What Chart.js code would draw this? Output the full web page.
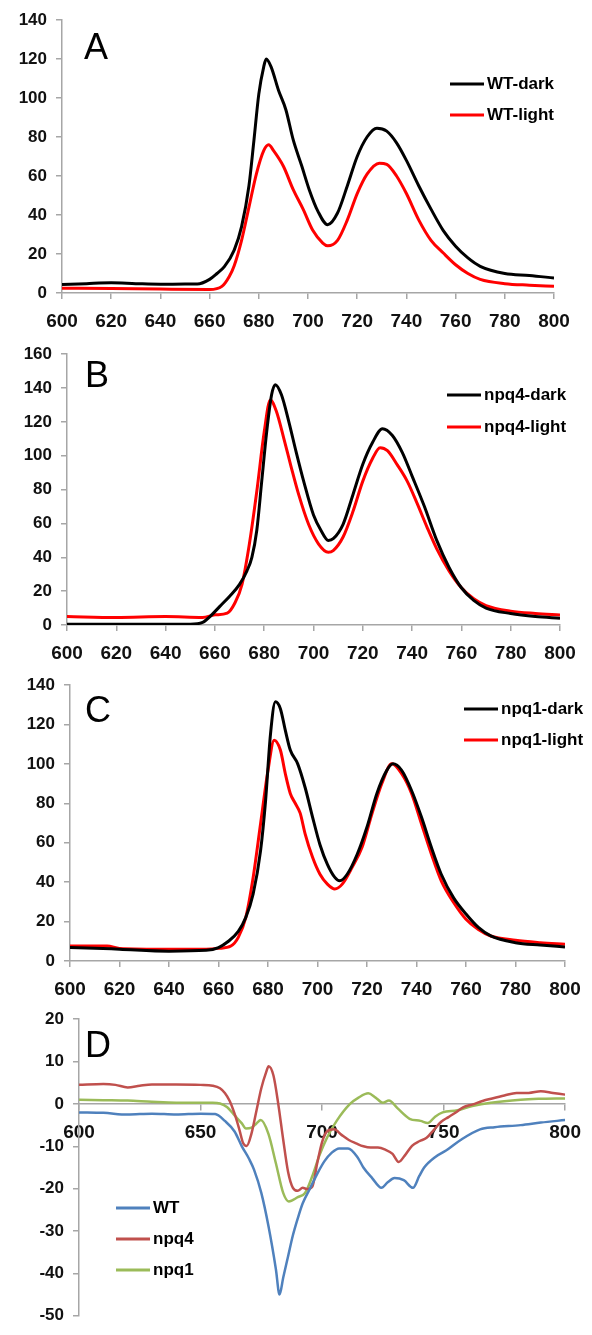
<!DOCTYPE html>
<html>
<head>
<meta charset="utf-8">
<script src="https://cdn.jsdelivr.net/npm/chart.js@4.4.1/dist/chart.umd.min.js"></script>
<style>
  html, body { margin: 0; padding: 0; background: #fff; }
  canvas { position: absolute; left: 0; }
</style>
</head>
<body>
<canvas id="chartA" width="592" height="335" style="top:0px"></canvas>
<canvas id="chartB" width="592" height="330" style="top:335px"></canvas>
<canvas id="chartC" width="592" height="335" style="top:665px"></canvas>
<canvas id="chartD" width="592" height="335" style="top:1000px"></canvas>
<script>
// Panel A - wild type
const wlWTdark = [600,610,620,630,640,650,655,660,663,666,670,673,676,678,680,682,683,685,688,691,694,697.5,700.5,704,708,712,716,720,724,728,732,736,740,745,750,755,760,765,770,780,790,800];
const wtDark = [4.3,4.8,5.2,4.8,4.5,4.6,4.6,7,10,13.5,22,34,55,78,102,116,120,116,104,94,78.5,65,53,42,35,41,55,70,80,84.5,83,77,68,55,43,32,24,18,13.7,10,9,7.7];
const wlWTlight = [600,620,640,660,665,668,670,673,676,679,682,684,686,690,694,698,702,706,708,712,716,720,724,729,732,736,740,745,750,755,760,765,770,780,790,800];
const wtLight = [2.5,2.3,2,1.8,3.4,8.5,14,27,44,61,73,76,73,65,53,43,32,25.6,24.2,27,37.5,51,61,66.6,66,60,51,37.5,27,20.5,14.5,10,7,4.8,4,3.4];

// Panel B - npq4
const wlN4dark = [600,620,640,650,655,658,662,666,670,673,675,677,679,681,683,684.5,687,690,693,696,700,703,706,708,712,716,720,724,728,732,736,740,745,750,755,760,765,770,780,790,800];
const npq4Dark = [0.5,0.5,0.5,0.5,1.5,5,11,17,24,32,40,56,85,114,136,142,136,120,102,85,65,56,50,51,59.5,77,95,108,116,112,102,88,70,50,34,22,14.5,10,6.8,5,4];
const wlN4light = [600,620,640,655,660,665,668,671,674,677,680,682.5,685,688,691,694,698,702,706,708,712,716,720,724,727,730,734,738,742,746,750,755,760,765,770,780,790,800];
const npq4Light = [5,4.5,5,4.5,6,7,12.7,24,48,79,114,133,126,110,93,77,59.5,48,43,44,52,67,85,98.5,104.8,103,94.6,85,72,58,45,32,22,15.5,11.5,8.2,6.8,5.9];

// Panel C - npq1
const wlN1dark = [600,610,620,640,655,660,664,668,671,674,677,679,681,683,685,687,689,692,695,698,701,704,707,709,712,716,720,724,728,730.5,734,738,742,746,750,755,760,765,770,780,790,800];
const npq1Dark = [6.8,6.5,6,5,5.4,6.8,10,15,22,34,56,81,115,131.5,128,117,107,100,88,73,59,49,42.4,40.7,44,54,68,85,96.7,100,96.7,86.5,73,57.7,44,32,23.8,17,12.7,9.3,8.1,7.1];
const wlN1light = [600,615,620,640,655,660,665,668,671,674,677,680,682.5,685,687,689,691,693,695,698,701,704,707,710,714,718,722,726,730,734,738,742,746,750,755,760,765,770,780,790,800];
const npq1Light = [7.6,7.6,6.4,6,6,6.4,7.6,12,22,42.4,69.6,96.7,112,107,95,85,80,75,64.5,52.6,44,39,36.5,39,47.5,57.7,74.7,90,100,95,85,69.6,54.3,40.7,29.7,21.2,16,12.7,10.5,9.3,8.5];

// Panel D - light minus dark difference spectra
const wlDiffWT = [600,610,620,630,640,650,656,660,664,667,670,672,675,678,681,682.5,684,686,688,690,692,695,698,701,704,707,710.7,714.5,717,720.6,724.4,727,729.8,733.6,737.4,740,742,746.6,751,757,765,771,781.7,790,800];
const diffWT = [-2,-2.1,-2.5,-2.3,-2.5,-2.3,-2.4,-4,-6.5,-10,-13,-15.5,-21,-29,-39,-45,-41,-36,-31,-27,-23.5,-20,-16.5,-13.5,-11.5,-10.5,-10.5,-12.5,-15,-17.5,-19.8,-18.5,-17.5,-18,-19.8,-17,-15,-12.5,-11,-8.5,-6,-5.5,-5,-4.4,-3.8];
const wlDiffN4 = [600,610,615,620,625,630,640,650,655,658,660,662,664,666,667.5,669,671,673,675,677,678,680,682,684,686,688,690,692,694,696,698,700,702,705,708,711,714,717,720,723,726,729,731.5,734,737,740,743,746,749,752,755,758,762,766,770,775,780,785,790,795,800];
const diffN4 = [4.5,4.7,4.5,3.9,4.3,4.6,4.6,4.5,4.3,3.7,2.6,0.7,-2.3,-6.1,-9.2,-9.9,-6.9,-1.6,3.7,7.5,8.9,6.7,-0.1,-8.4,-16,-19.8,-20.5,-19.8,-20.1,-19.5,-14,-9,-6.5,-6,-7.3,-8.5,-9.3,-10,-10.3,-10.3,-10.8,-11.8,-13.7,-12.2,-9.9,-8.8,-8,-6.1,-4.2,-3.1,-2,-0.8,-0.1,0.7,1.3,2,2.6,2.6,3,2.6,2.2];
const wlDiffN1 = [600,610,620,630,640,650,655,658,661,664,667,668.7,671,673,674.8,677.9,681,684,686.3,690,693,696,699,702,706,711.5,715,719,722,725,727.5,731,736,740.5,743.5,746.5,749.6,755.7,761.8,769.5,781.7,789,800];
const diffN1 = [1,0.9,0.8,0.5,0.3,0.3,0.3,0.1,-0.8,-2.7,-4.6,-5.8,-5.6,-4.6,-3.8,-7,-14,-21,-23,-22,-21,-17,-12,-8,-4,0,1.5,2.5,1.5,0.3,0.8,-1,-3.5,-4,-4.5,-3,-2,-1.5,-0.5,0.3,1,1.2,1.3];

const FONT = "'Liberation Sans', Arial, sans-serif";
const AXIS_GREY = '#a6a6a6';

function pairs(xs, ys) {
  return xs.map((x, i) => ({ x: x, y: ys[i] }));
}

function series(label, color, xs, ys, width) {
  return {
    label: label,
    data: pairs(xs, ys),
    borderColor: color,
    borderWidth: width || 3,
    pointRadius: 0,
    fill: false,
    cubicInterpolationMode: 'monotone'
  };
}

// panel letter and in-plot legend
const panelDecor = {
  id: 'panelDecor',
  afterDraw(chart, args, opts) {
    const ctx = chart.ctx;
    ctx.save();
    ctx.fillStyle = '#000';
    ctx.font = '36px ' + FONT;
    ctx.textBaseline = 'alphabetic';
    ctx.textAlign = 'left';
    ctx.fillText(opts.letter, opts.letterX, opts.letterY);
    ctx.font = 'bold 17px ' + FONT;
    ctx.textBaseline = 'middle';
    chart.data.datasets.forEach((ds, i) => {
      const y = opts.legendY + i * opts.legendGap;
      ctx.strokeStyle = ds.borderColor;
      ctx.lineWidth = 3;
      ctx.beginPath();
      ctx.moveTo(opts.legendX, y);
      ctx.lineTo(opts.legendX + 34, y);
      ctx.stroke();
      ctx.fillText(ds.label, opts.legendX + 37, y);
    });
    ctx.restore();
  }
};

function axisStyle() {
  return {
    grid: { display: true, drawOnChartArea: false, drawTicks: true, tickLength: 6, color: AXIS_GREY, lineWidth: 1.5 },
    border: { display: true, color: AXIS_GREY, width: 1.5 }
  };
}

function makePanel(canvasId, datasets, p) {
  const ctx = document.getElementById(canvasId);
  const xAxis = Object.assign(axisStyle(), {
    type: 'linear',
    min: 600,
    max: 800,
    ticks: {
      stepSize: p.xStep,
      autoSkip: false,
      maxRotation: 0,
      padding: 11,
      color: '#111',
      font: { family: FONT, size: 19, weight: 'bold' }
    }
  });
  if (p.xAtZero) {
    xAxis.position = { y: 0 };
  } else {
    xAxis.afterFit = (scale) => { scale.height = p.xHeight; };
  }
  const yAxis = Object.assign(axisStyle(), {
    min: p.yMin,
    max: p.yMax,
    ticks: {
      stepSize: p.yStep,
      padding: 9,
      color: '#111',
      font: { family: FONT, size: 17, weight: 'bold' }
    },
    afterFit: (scale) => { scale.width = p.yWidth; }
  });
  return new Chart(ctx, {
    type: 'line',
    data: { datasets: datasets },
    options: {
      responsive: false,
      animation: false,
      devicePixelRatio: 1,
      layout: { padding: p.padding },
      plugins: {
        legend: { display: false },
        tooltip: { enabled: false },
        panelDecor: p.decor
      },
      scales: { x: xAxis, y: yAxis }
    },
    plugins: [panelDecor]
  });
}

makePanel('chartA', [
  series('WT-dark', '#000000', wlWTdark, wtDark),
  series('WT-light', '#ff0000', wlWTlight, wtLight)
], {
  xStep: 20, yMin: 0, yMax: 140, yStep: 20, yWidth: 62, xHeight: 40,
  padding: { left: 0, right: 38, top: 20, bottom: 2 },
  decor: { letter: 'A', letterX: 84, letterY: 59, legendX: 450, legendY: 84, legendGap: 31 }
});

makePanel('chartB', [
  series('npq4-dark', '#000000', wlN4dark, npq4Dark),
  series('npq4-light', '#ff0000', wlN4light, npq4Light)
], {
  xStep: 20, yMin: 0, yMax: 160, yStep: 20, yWidth: 67, xHeight: 40,
  padding: { left: 0, right: 32, top: 17, bottom: 0 },
  decor: { letter: 'B', letterX: 85, letterY: 52, legendX: 447, legendY: 60, legendGap: 32 }
});

makePanel('chartC', [
  series('npq1-dark', '#000000', wlN1dark, npq1Dark),
  series('npq1-light', '#ff0000', wlN1light, npq1Light)
], {
  xStep: 20, yMin: 0, yMax: 140, yStep: 20, yWidth: 70, xHeight: 39,
  padding: { left: 0, right: 27, top: 20, bottom: 0 },
  decor: { letter: 'C', letterX: 85, letterY: 57, legendX: 464, legendY: 44, legendGap: 31 }
});

makePanel('chartD', [
  series('WT', '#4f81bd', wlDiffWT, diffWT, 2.5),
  series('npq4', '#c0504d', wlDiffN4, diffN4, 2.5),
  series('npq1', '#9bbb59', wlDiffN1, diffN1, 2.5)
], {
  xStep: 50, xAtZero: true, yMin: -50, yMax: 20, yStep: 10, yWidth: 79,
  padding: { left: 0, right: 17, top: 16, bottom: 11 },
  decor: { letter: 'D', letterX: 85, letterY: 57, legendX: 116, legendY: 208, legendGap: 31 }
});
</script>
</body>
</html>
